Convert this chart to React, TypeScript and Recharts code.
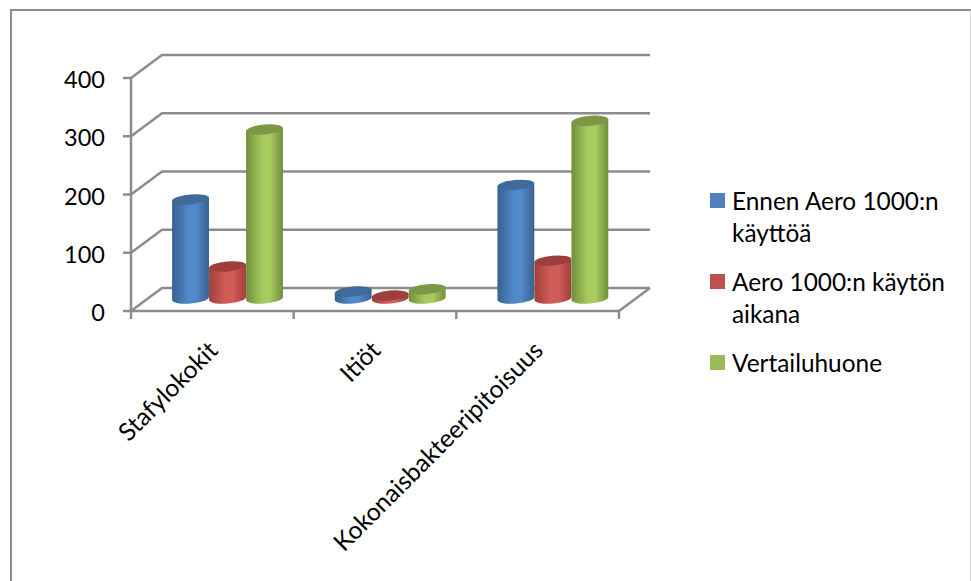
// Bakteeripitoisuudet: 3D-tyylinen sylinteripylväskaavio
import React from 'react';
import { BarChart, Bar, XAxis, YAxis, CartesianGrid, Legend } from 'recharts';

const categories = ['Stafylokokit', 'Itiöt', 'Kokonaisbakteeripitoisuus'];
const ennen = [170, 12, 195];
const kayton = [55, 5, 65];
const vertailu = [290, 16, 305];
const yTicks = [0, 100, 200, 300, 400];

const seriesNames = ['Ennen Aero 1000:n käyttöä', 'Aero 1000:n käytön aikana', 'Vertailuhuone'];
const colors = ['#4f81bd', '#c0504d', '#9bbb59'];
const gradients = [
  { id: 'cylBlue', edge: '#38618f', mid: '#5289cb', top: '#3f6a9a' },
  { id: 'cylRed', edge: '#a03f3c', mid: '#d25c58', top: '#9d3f3c' },
  { id: 'cylGreen', edge: '#70903a', mid: '#a8cb60', top: '#7a9846' },
];

const data = categories.map((name, i) => ({
  name,
  ennen: ennen[i],
  kayton: kayton[i],
  vertailu: vertailu[i],
}));

const FONT = 'Lato, "Open Sans", sans-serif';
const AXIS_COLOR = '#8c8c8c';
const LINE_W = 2.5;
// siirtymä etuseinästä takaseinälle
const DEPTH_X = 31;
const DEPTH_Y = 23;
// pylväät seisovat lattian keskellä
const BAR_SHIFT_X = 15;
const BAR_SHIFT_Y = 12.5;
const RY = 5;
const TILT = -5;

function Cylinder(props: any) {
  const { x, y, width, height, gradIndex } = props;
  const g = gradients[gradIndex];
  const rx = width / 2;
  const cx = x + rx + BAR_SHIFT_X;
  const top = y - BAR_SHIFT_Y;
  const bottom = y + height - BAR_SHIFT_Y;
  const rad = (TILT * Math.PI) / 180;
  const ox = rx * Math.cos(rad);
  const oy = rx * Math.sin(rad);
  const body =
    `M${cx - ox} ${top - oy} L${cx - ox} ${bottom - oy} ` +
    `A${rx} ${RY} ${TILT} 0 0 ${cx + ox} ${bottom + oy} ` +
    `L${cx + ox} ${top + oy} Z`;
  return (
    <g>
      <path d={body} fill={`url(#${g.id})`} />
      <ellipse cx={cx} cy={top} rx={rx} ry={RY} fill={g.top} transform={`rotate(${TILT} ${cx} ${top})`} />
    </g>
  );
}

function ValueTick(props: any) {
  const { x, y, payload } = props;
  return (
    <text x={x} y={y + 10} textAnchor="end" fontFamily={FONT} fontSize={23.5} fill="#000">
      {payload.value}
    </text>
  );
}

function CategoryTick(props: any) {
  const { x, y, payload, index } = props;
  const half = payload.offset ?? 0;
  const lx = x + 7;
  const ly = y + 33;
  return (
    <g>
      <line x1={x - half} y1={y - 8} x2={x - half} y2={y} stroke={AXIS_COLOR} strokeWidth={LINE_W} />
      {index === categories.length - 1 && (
        <line x1={x + half} y1={y - 8} x2={x + half} y2={y} stroke={AXIS_COLOR} strokeWidth={LINE_W} />
      )}
      <text
        x={lx}
        y={ly}
        textAnchor="end"
        fontFamily={FONT}
        fontSize={24.7}
        fill="#000"
        transform={`rotate(-45 ${lx} ${ly})`}
      >
        {payload.value}
      </text>
    </g>
  );
}

// vaakaviiva etureunasta takaseinälle
function WallLine(props: any) {
  const { x1, x2, y1, offset } = props;
  const isFloor = offset && Math.abs(y1 - (offset.top + offset.height)) < 1;
  return (
    <g stroke={AXIS_COLOR} strokeWidth={LINE_W} fill="none">
      <polyline points={`${x1},${y1} ${x1 + DEPTH_X},${y1 - DEPTH_Y} ${x2 + DEPTH_X},${y1 - DEPTH_Y}`} />
      {isFloor && <line x1={x2} y1={y1} x2={x2 + DEPTH_X} y2={y1 - DEPTH_Y} />}
    </g>
  );
}

function LegendList() {
  return (
    <div style={{ fontFamily: FONT, fontSize: 24.4, lineHeight: '32px', color: '#000', width: 240 }}>
      {seriesNames.map((name, i) => (
        <div key={name} style={{ position: 'relative', paddingLeft: 22, marginBottom: 17 }}>
          <span
            style={{
              position: 'absolute',
              left: 0,
              top: 8,
              width: 15,
              height: 15,
              background: colors[i],
            }}
          />
          {name}
        </div>
      ))}
    </div>
  );
}

export default function App() {
  return (
    <div style={{ position: 'absolute', left: 0, top: 0, width: 971, height: 581, overflow: 'hidden', background: '#fff' }}>
      {/* kaavion kehys, alareuna jää kuvan ulkopuolelle */}
      <div
        style={{
          position: 'absolute',
          left: 10,
          top: 9,
          width: 958,
          height: 600,
          borderLeft: '2px solid #8c8c8c',
          borderTop: '2px solid #8c8c8c',
          borderRight: '2px solid #d9d9d9',
        }}
      />
      <BarChart
        width={971}
        height={581}
        data={data}
        margin={{ top: 78, right: 352, bottom: 210, left: 71 }}
        barCategoryGap="16%"
        barGap={0}
        style={{ position: 'absolute', left: 0, top: 0 }}
      >
        <defs>
          {gradients.map((g) => (
            <linearGradient key={g.id} id={g.id} x1="0" y1="0" x2="1" y2="0">
              <stop offset="0%" stopColor={g.edge} />
              <stop offset="45%" stopColor={g.mid} />
              <stop offset="65%" stopColor={g.mid} />
              <stop offset="100%" stopColor={g.edge} />
            </linearGradient>
          ))}
        </defs>
        <CartesianGrid vertical={false} horizontal={(p: any) => <WallLine key={p.key} {...p} />} />
        <XAxis
          dataKey="name"
          height={60}
          interval={0}
          axisLine={{ stroke: AXIS_COLOR, strokeWidth: LINE_W }}
          tickLine={false}
          tick={<CategoryTick />}
        />
        <YAxis
          width={60}
          domain={[0, 400]}
          ticks={yTicks}
          tickSize={8}
          tickMargin={18}
          axisLine={{ stroke: AXIS_COLOR, strokeWidth: LINE_W }}
          tickLine={{ stroke: AXIS_COLOR, strokeWidth: LINE_W }}
          tick={<ValueTick />}
        />
        <Legend
          layout="vertical"
          align="center"
          verticalAlign="middle"
          wrapperStyle={{ left: 710, top: 185, width: 240 }}
          content={() => <LegendList />}
        />
        <Bar dataKey="ennen" name={seriesNames[0]} fill={colors[0]} isAnimationActive={false}
          shape={(p: any) => <Cylinder {...p} gradIndex={0} />} />
        <Bar dataKey="kayton" name={seriesNames[1]} fill={colors[1]} isAnimationActive={false}
          shape={(p: any) => <Cylinder {...p} gradIndex={1} />} />
        <Bar dataKey="vertailu" name={seriesNames[2]} fill={colors[2]} isAnimationActive={false}
          shape={(p: any) => <Cylinder {...p} gradIndex={2} />} />
      </BarChart>
    </div>
  );
}
